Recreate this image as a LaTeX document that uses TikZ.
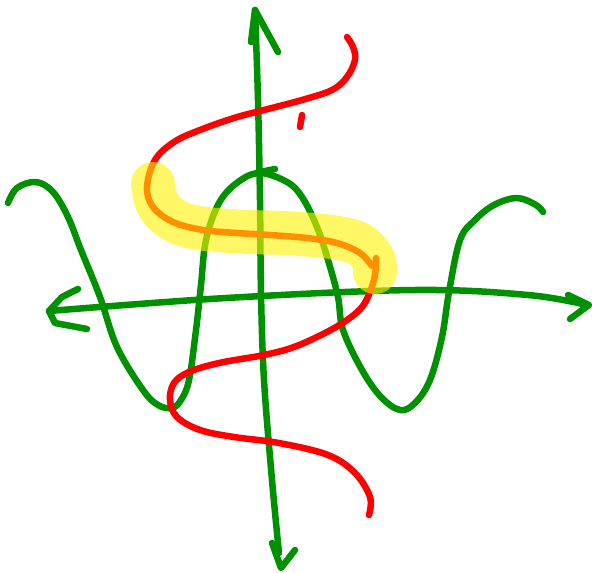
\documentclass[tikz,border=0pt]{standalone}
\begin{document}
\begin{tikzpicture}[x=1pt,y=-1pt,
  pen/.style={line width=6.5pt,line cap=round,line join=round},
  grn/.style={pen,draw={rgb,255:red,0;green,145;blue,0}},
  rd/.style={pen,draw={rgb,255:red,255;green,0;blue,0}},
  hl/.style={line width=44pt,line cap=round,line join=round,draw=yellow,draw opacity=0.6}]
\useasboundingbox (0,0) rectangle (592,573);
% sine wave
\draw[grn] plot[smooth,tension=0.6] coordinates {(8,203) (17,188) (36,182) (53,192) (68,217) (81,250) (100,297) (117,347) (143,390) (158,405) (172,408) (181,400) (189,380) (196,330) (201,285) (206,240) (219,203) (238,182) (260,173) (287,182) (302,197) (317,227) (328,260) (338,297) (343,330) (362,370) (381,397) (400,410) (415,403) (430,380) (442,337) (449,292) (460,240) (475,220) (494,205) (517,198) (536,205) (543,212)};
\draw[grn] (260,172) -- (275,169);
% horizontal axis
\draw[grn] plot[smooth,tension=0.6] coordinates {(49,311) (226,298) (415,290) (528,295) (587,305)};
\draw[grn] (78,289) -- (62,297) -- (49,311) -- (55,323) -- (87,329);
\draw[grn] (568,295) -- (589,305) -- (570,319);
% vertical axis
\draw[grn] plot[smooth,tension=0.6] coordinates {(255,10) (258,100) (260,200) (261,293) (264,380) (272,480) (279,553)};
\draw[grn] (251,42) -- (255,10) -- (278,52);
\draw[grn] (272,543) -- (281,568) -- (295,550);
% red S curve
\draw[rd] plot[smooth,tension=0.6] coordinates {(347,37) (353,47) (355,60) (347,77) (332,90) (302,100) (264,110) (234,118) (200,130) (174,142) (155,160) (147,187) (153,207) (173,222) (203,230) (237,233) (270,235) (307,238) (337,243) (360,253) (372,266)};
\draw[rd] plot[smooth,tension=0.6] coordinates {(376,258) (375,275) (370,292) (362,307) (347,320) (325,333) (294,347) (264,355) (219,363) (189,372) (174,383) (170,400) (177,417) (200,430) (234,437) (279,443) (328,455) (355,473) (370,497) (369,515)};
\draw[rd] (302,115) -- (300,127);
% highlight
\draw[hl] plot[smooth,tension=0.6] coordinates {(153,184) (160,208) (185,225) (230,231) (300,234) (352,241) (372,257) (375,272)};
\end{tikzpicture}
\end{document}
